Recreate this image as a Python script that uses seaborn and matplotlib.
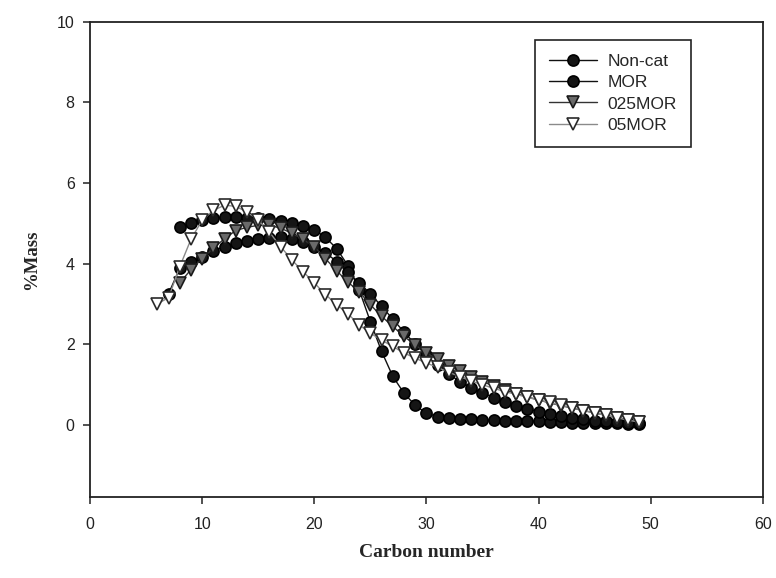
import numpy as np
import pandas as pd
import matplotlib
matplotlib.use("Agg")
import matplotlib.pyplot as plt
import seaborn as sns

# ---- data ----
noncat_c = list(range(8, 50))
noncat_v = [4.90, 5.00, 5.08, 5.13, 5.15, 5.15, 5.14, 5.12, 5.10, 5.05,
            5.00, 4.93, 4.84, 4.65, 4.37, 3.95, 3.35, 2.56, 1.82, 1.20,
            0.78, 0.48, 0.28, 0.20, 0.17, 0.15, 0.13, 0.12, 0.11, 0.10,
            0.09, 0.08, 0.08, 0.07, 0.06, 0.05, 0.05, 0.04, 0.03, 0.03,
            0.02, 0.02]

mor_c = list(range(7, 50))
mor_v = [3.25, 3.88, 4.05, 4.17, 4.31, 4.42, 4.50, 4.56, 4.60, 4.64,
         4.66, 4.62, 4.54, 4.42, 4.27, 4.05, 3.78, 3.52, 3.25, 2.94,
         2.62, 2.30, 2.00, 1.72, 1.47, 1.25, 1.07, 0.92, 0.79, 0.67,
         0.56, 0.47, 0.39, 0.32, 0.26, 0.21, 0.17, 0.13, 0.10, 0.08,
         0.06, 0.04, 0.03]

mor025_c = list(range(8, 50))
mor025_v = [3.52, 3.85, 4.12, 4.38, 4.62, 4.82, 4.90, 4.95, 4.95, 4.88,
            4.75, 4.60, 4.42, 4.12, 3.82, 3.54, 3.30, 2.98, 2.69, 2.44,
            2.19, 1.98, 1.78, 1.62, 1.46, 1.32, 1.19, 1.07, 0.96, 0.86,
            0.77, 0.69, 0.61, 0.54, 0.47, 0.41, 0.35, 0.29, 0.23, 0.17,
            0.12, 0.07]

mor05_c = list(range(6, 50))
mor05_v = [3.00, 3.15, 3.92, 4.60, 5.08, 5.32, 5.45, 5.42, 5.28, 5.08,
           4.78, 4.42, 4.09, 3.80, 3.52, 3.23, 2.98, 2.75, 2.48, 2.27,
           2.10, 1.94, 1.78, 1.65, 1.53, 1.42, 1.30, 1.19, 1.08, 0.99,
           0.90, 0.82, 0.75, 0.68, 0.61, 0.55, 0.48, 0.42, 0.35, 0.29,
           0.23, 0.17, 0.11, 0.06]

series_names = ["Non-cat", "MOR", "025MOR", "05MOR"]
x_ticks = [0, 10, 20, 30, 40, 50, 60]
y_ticks = [0, 2, 4, 6, 8, 10]

# ---- styling ----
sns.set_style("ticks")
plt.rcParams["font.family"] = ["Liberation Sans", "DejaVu Sans"]

fig = plt.figure(figsize=(7.76, 5.78), dpi=100)
ax = fig.add_axes([0.116, 0.140, 0.867, 0.822])

styles = {
    "Non-cat": dict(marker="o", color="#111111", mfc="#151515", mec="#000000", lw=1.0, ms=8.0),
    "MOR":     dict(marker="o", color="#111111", mfc="#151515", mec="#000000", lw=1.0, ms=8.0),
    "025MOR":  dict(marker="v", color="#333333", mfc="#6a6a6a", mec="#1a1a1a", lw=1.0, ms=8.6),
    "05MOR":   dict(marker="v", color="#8a8a8a", mfc="#ffffff", mec="#2a2a2a", lw=1.0, ms=8.6),
}

data = {
    "Non-cat": (noncat_c, noncat_v),
    "MOR": (mor_c, mor_v),
    "025MOR": (mor025_c, mor025_v),
    "05MOR": (mor05_c, mor05_v),
}

for name in series_names:
    c, v = data[name]
    df = pd.DataFrame({"Carbon": c, "Mass": v})
    st = styles[name]
    sns.lineplot(data=df, x="Carbon", y="Mass", ax=ax, label=name,
                 marker=st["marker"], color=st["color"], linewidth=st["lw"],
                 markersize=st["ms"], markerfacecolor=st["mfc"],
                 markeredgecolor=st["mec"], markeredgewidth=1.2)

ax.set_xlim(0, 60)
ax.set_ylim(-1.8, 10)
ax.set_xticks(x_ticks)
ax.set_yticks(y_ticks)
ax.tick_params(axis="both", direction="out", length=5, width=1.1,
               labelsize=11.5, colors="#222222")
ax.tick_params(axis="x", pad=9)
ax.tick_params(axis="y", pad=6)
for sp in ax.spines.values():
    sp.set_linewidth(1.3)
    sp.set_color("#222222")
    sp.set_visible(True)

ax.set_xlabel("Carbon number", fontsize=14, fontweight="bold",
              family=["Liberation Serif", "DejaVu Serif"], labelpad=9)
ax.set_ylabel("%Mass", fontsize=13.5, fontweight="bold",
              family=["Liberation Serif", "DejaVu Serif"], labelpad=12)

leg = ax.legend(loc="upper right", bbox_to_anchor=(0.893, 0.962),
                borderaxespad=0.0,
                frameon=True, fancybox=False, fontsize=12.5,
                handlelength=2.8, handletextpad=0.6, labelspacing=0.35,
                borderpad=0.8, edgecolor="#222222", framealpha=1)
leg.get_frame().set_linewidth(1.2)

fig.savefig("out.png", dpi=100, facecolor="white")
